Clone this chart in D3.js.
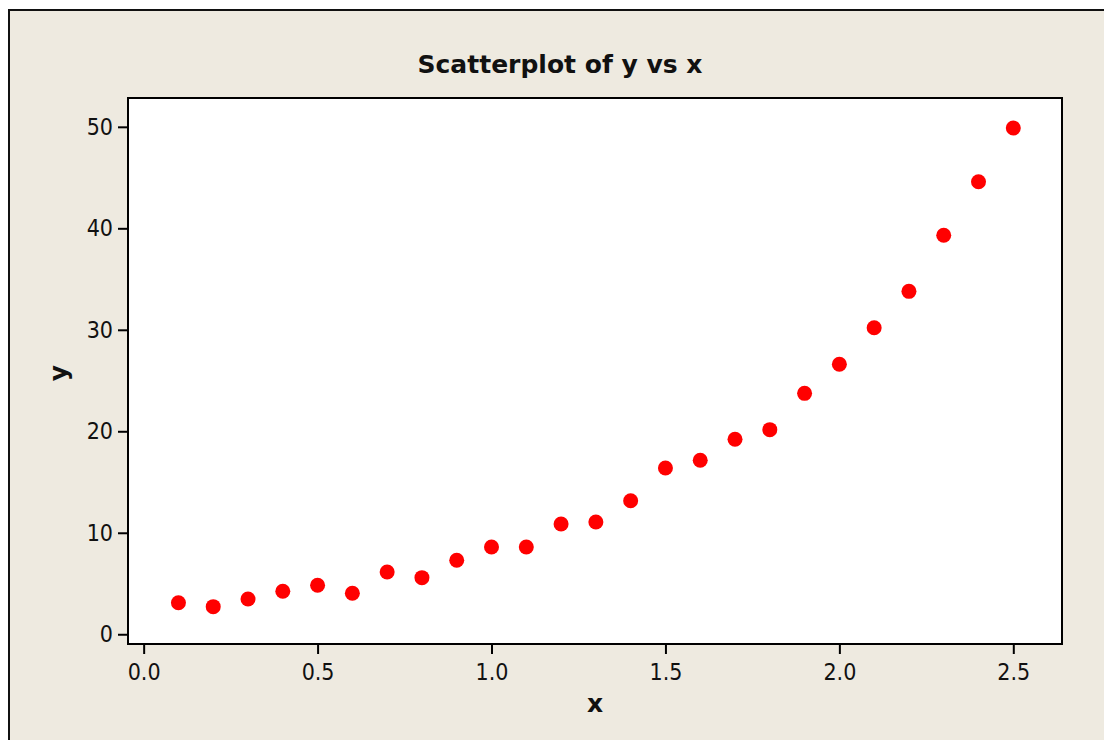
<!DOCTYPE html>
<html>
<head>
<meta charset="utf-8">
<script src="https://cdn.jsdelivr.net/npm/d3@7"></script>
<style>
  html, body { margin: 0; padding: 0; background: #ffffff; }
  svg { display: block; }
</style>
</head>
<body>
<svg id="chart" width="1104" height="740"></svg>
<script>
// ---- data ----
const chartTitle = "Scatterplot of y vs x";
const xLabel = "x";
const yLabel = "y";
const xValues = [0.1, 0.2, 0.3, 0.4, 0.5, 0.6, 0.7, 0.8, 0.9, 1.0, 1.1, 1.2, 1.3,
                 1.4, 1.5, 1.6, 1.7, 1.8, 1.9, 2.0, 2.1, 2.2, 2.3, 2.4, 2.5];
const yValues = [3.11, 2.72, 3.48, 4.24, 4.83, 4.04, 6.14, 5.58, 7.29, 8.60, 8.60, 10.87, 11.06,
                 13.16, 16.38, 17.14, 19.21, 20.16, 23.74, 26.60, 30.20, 33.79, 39.31, 44.59, 49.88];
const xTicks = [0.0, 0.5, 1.0, 1.5, 2.0, 2.5];
const yTicks = [0, 10, 20, 30, 40, 50];
const xDomain = [-0.045, 2.64];
const yDomain = [-0.96, 52.84];

// ---- layout ----
const W = 1104, H = 740;
const plot = { left: 128, top: 98, right: 1062, bottom: 644 };
const bg = "#eeeae0";
const tickFont = "'DejaVu Sans Condensed', 'DejaVu Sans', sans-serif";
const boldFont = "'DejaVu Sans', sans-serif";

const svg = d3.select("#chart");

// outer panel
svg.append("rect").attr("x", 0).attr("y", 0).attr("width", W).attr("height", H).attr("fill", "#ffffff");
svg.append("rect")
  .attr("x", 9).attr("y", 10).attr("width", W + 20).attr("height", H + 20)
  .attr("fill", bg).attr("stroke", "#111").attr("stroke-width", 2);

// plot area
svg.append("rect")
  .attr("x", plot.left).attr("y", plot.top)
  .attr("width", plot.right - plot.left).attr("height", plot.bottom - plot.top)
  .attr("fill", "#ffffff");

const x = d3.scaleLinear().domain(xDomain).range([plot.left, plot.right]);
const y = d3.scaleLinear().domain(yDomain).range([plot.bottom, plot.top]);

// axes
const xAxis = svg.append("g")
  .attr("transform", `translate(0,${plot.bottom})`)
  .call(d3.axisBottom(x).tickValues(xTicks).tickFormat(d3.format(".1f"))
        .tickSizeInner(10).tickSizeOuter(0).tickPadding(10));
const yAxis = svg.append("g")
  .attr("transform", `translate(${plot.left},0)`)
  .call(d3.axisLeft(y).tickValues(yTicks).tickFormat(d3.format("d"))
        .tickSizeInner(10).tickSizeOuter(0).tickPadding(5));

[xAxis, yAxis].forEach(g => {
  g.select(".domain").remove();
  g.selectAll(".tick line").attr("stroke", "#000").attr("stroke-width", 2);
  g.selectAll(".tick text")
    .attr("fill", "#111")
    .style("font-family", tickFont)
    .style("font-size", "23px");
});

// frame
svg.append("rect")
  .attr("x", plot.left).attr("y", plot.top)
  .attr("width", plot.right - plot.left).attr("height", plot.bottom - plot.top)
  .attr("fill", "none").attr("stroke", "#000").attr("stroke-width", 2);

// points
svg.append("g").selectAll("circle")
  .data(xValues.map((v, i) => [v, yValues[i]]))
  .join("circle")
  .attr("cx", d => x(d[0]))
  .attr("cy", d => y(d[1]))
  .attr("r", 7.5)
  .attr("fill", "#ff0000");

// title and labels
svg.append("text")
  .attr("x", (plot.left + plot.right) / 2 - 35).attr("y", 73)
  .attr("text-anchor", "middle")
  .style("font-family", boldFont).style("font-weight", "bold").style("font-size", "25px")
  .attr("fill", "#111")
  .text(chartTitle);

svg.append("text")
  .attr("x", (plot.left + plot.right) / 2).attr("y", 712)
  .attr("text-anchor", "middle")
  .style("font-family", boldFont).style("font-weight", "bold").style("font-size", "25px")
  .attr("fill", "#111")
  .text(xLabel);

svg.append("text")
  .attr("transform", `translate(67,${(plot.top + plot.bottom) / 2 + 2}) rotate(-90)`)
  .attr("text-anchor", "middle")
  .style("font-family", boldFont).style("font-weight", "bold").style("font-size", "25px")
  .attr("fill", "#111")
  .text(yLabel);
</script>
</body>
</html>
